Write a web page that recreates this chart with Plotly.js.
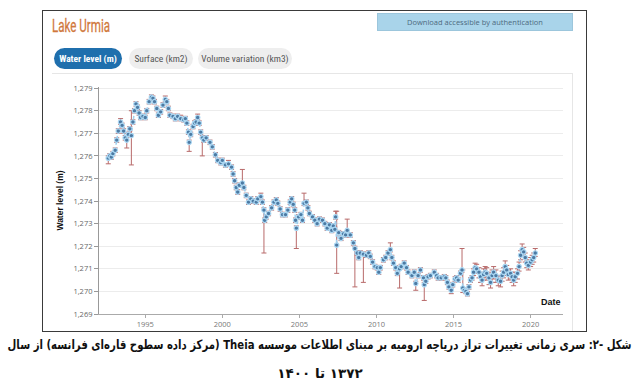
<!DOCTYPE html>
<html>
<head>
<meta charset="utf-8">
<script src="https://cdn.plot.ly/plotly-3.0.1.min.js"></script>
<style>
  html, body { margin:0; padding:0; background:#fff; width:640px; height:384px; overflow:hidden; }
  .abs { position:absolute; }
  #frame { left:42px; top:10px; width:543px; height:320px; border:1.5px solid #3a3a3a; }
  #title { left:52px; top:14px; font-family:"Liberation Sans Narrow","Roboto",sans-serif; font-size:19px; color:#d0783c; transform-origin:left center; white-space:nowrap; -webkit-text-stroke:0.3px #d0783c; }
  .pill { top:48px; height:21px; border-radius:11px; font-family:"Liberation Sans Narrow","Roboto",sans-serif; font-stretch:condensed; font-size:9.5px; line-height:21px; text-align:center; font-weight:bold; }
  #b1 { left:54px; width:68px; background:#1f6fad; color:#fff; }
  #b2 { left:129px; width:64px; background:#eeeeee; color:#555; font-weight:normal; }
  #b3 { left:198px; width:94px; background:#eeeeee; color:#555; font-weight:normal; }
  #dl { left:377px; top:13px; width:194px; height:16px; background:#a9d4ea; border:1px solid #9cc6dc; color:#4d6a7e; font-family:"Open Sans",sans-serif; font-size:7.5px; line-height:16px; text-align:center; }
  #panel { left:52px; top:73px; width:520px; height:257px; border-top:1px solid #e6e6e6; border-right:1px solid #e6e6e6; }
  #chart { left:52px; top:73px; width:520px; height:257px; }
  #cap1 { right:8px; top:337px; direction:rtl; font-family:"DejaVu Sans",sans-serif; font-weight:bold; font-size:13px; color:#111; white-space:nowrap; transform-origin:right center; }
  #cap2 { left:0px; top:365px; width:640px; text-align:center; direction:rtl; font-family:"DejaVu Sans",sans-serif; font-weight:bold; font-size:13.5px; color:#111; }
</style>
</head>
<body>
<div id="frame" class="abs"></div>
<div id="title" class="abs">Lake Urmia</div>
<div id="b1" class="abs pill">Water level (m)</div>
<div id="b2" class="abs pill">Surface (km2)</div>
<div id="b3" class="abs pill">Volume variation (km3)</div>
<div id="dl" class="abs">Download accessible by authentication</div>
<div id="panel" class="abs"></div>
<div id="chart" class="abs"></div>
<div id="cap1" class="abs">شکل -۲: سری زمانی تغییرات تراز دریاچه ارومیه بر مبنای اطلاعات موسسه Theia (مرکز داده سطوح قاره‌ای فرانسه) از سال</div>
<div id="cap2" class="abs">۱۳۷۲ تا ۱۴۰۰</div>
<script>
const dates = [
  1992.6,1992.7,1992.8,1992.9,1993.05,1993.15,1993.25,1993.4,1993.5,1993.6,
  1993.7,1993.8,1993.9,1994.0,1994.1,1994.2,1994.3,1994.4,1994.5,1994.6,
  1994.7,1994.85,1995.0,1995.1,1995.25,1995.4,1995.5,1995.6,1995.75,1995.85,
  1996.0,1996.15,1996.3,1996.4,1996.5,1996.6,1996.8,1996.95,1997.1,1997.3,
  1997.5,1997.6,1997.7,1997.8,1997.85,1997.95,1998.1,1998.2,1998.3,1998.4,
  1998.5,1998.6,1998.7,1998.8,1998.95,1999.2,1999.35,1999.55,1999.7,1999.9,
  2000.0,2000.2,2000.4,2000.6,2000.7,2000.8,2000.9,2001.0,2001.1,2001.3,
  2001.4,2001.55,2001.7,2001.85,2002.0,2002.2,2002.3,2002.5,2002.6,2002.7,
  2002.75,2002.85,2003.0,2003.2,2003.35,2003.5,2003.6,2003.75,2003.9,2004.1,
  2004.25,2004.4,2004.5,2004.6,2004.7,2004.75,2004.8,2004.95,2005.1,2005.2,
  2005.3,2005.45,2005.55,2005.65,2005.85,2006.0,2006.15,2006.3,2006.5,2006.65,
  2006.8,2006.95,2007.1,2007.2,2007.3,2007.35,2007.42,2007.55,2007.7,2007.85,
  2008.0,2008.1,2008.3,2008.5,2008.6,2008.75,2008.85,2008.95,2009.15,2009.35,
  2009.5,2009.6,2009.75,2009.9,2010.05,2010.15,2010.25,2010.45,2010.6,2010.75,
  2010.9,2011.0,2011.1,2011.25,2011.35,2011.5,2011.6,2011.8,2011.95,2012.05,
  2012.3,2012.45,2012.55,2012.7,2012.85,2013.05,2013.1,2013.2,2013.35,2013.5,
  2013.75,2013.9,2014.0,2014.2,2014.4,2014.5,2014.6,2014.7,2014.85,2014.95,
  2015.1,2015.2,2015.3,2015.45,2015.55,2015.6,2015.7,2015.8,2015.9,2016.0,
  2016.1,2016.2,2016.3,2016.4,2016.5,2016.65,2016.75,2016.85,2016.95,2017.05,
  2017.15,2017.3,2017.4,2017.5,2017.6,2017.75,2017.9,2018.05,2018.15,2018.25,
  2018.35,2018.45,2018.55,2018.7,2018.8,2018.9,2019.0,2019.15,2019.25,2019.35,
  2019.45,2019.55,2019.65,2019.75,2019.85,2020.0,2020.1,2020.2,2020.3
];
const levels = [
  1275.9,1276.0,1275.95,1276.1,1276.25,1276.7,1277.1,1277.5,1277.35,1277.1,
  1276.8,1276.7,1276.95,1277.2,1276.9,1277.5,1278.0,1278.3,1278.15,1277.9,
  1277.7,1277.75,1277.7,1278.0,1278.4,1278.6,1278.55,1278.4,1278.1,1277.8,
  1277.95,1278.25,1278.5,1278.4,1278.1,1277.8,1277.75,1277.65,1277.75,1277.65,
  1277.6,1277.65,1277.45,1277.05,1276.6,1276.95,1277.3,1277.45,1277.5,1277.7,
  1277.45,1277.05,1276.8,1276.7,1276.8,1276.6,1276.4,1276.05,1275.8,1275.7,
  1275.8,1275.6,1275.65,1275.5,1275.2,1274.9,1274.6,1274.4,1274.7,1274.8,
  1274.6,1274.25,1273.95,1274.1,1274.0,1273.95,1274.1,1274.2,1273.95,1273.6,
  1273.15,1273.3,1273.45,1273.7,1273.95,1274.05,1273.9,1273.65,1273.4,1273.4,
  1273.6,1273.95,1274.1,1273.85,1273.6,1273.15,1272.8,1273.3,1273.4,1273.15,
  1273.9,1273.95,1273.7,1273.45,1273.3,1273.15,1273.0,1273.2,1273.15,1273.0,
  1272.8,1272.95,1272.7,1272.9,1272.75,1273.3,1272.05,1272.6,1272.35,1272.55,
  1272.5,1272.7,1272.5,1272.15,1271.9,1271.7,1271.5,1271.7,1271.65,1271.6,
  1271.7,1271.55,1271.3,1271.1,1271.05,1270.85,1271.05,1271.4,1271.5,1271.7,
  1271.85,1271.5,1271.25,1271.05,1270.8,1271.0,1271.1,1271.25,1271.05,1270.85,
  1270.7,1270.85,1270.35,1270.7,1270.95,1270.6,1270.3,1270.45,1270.65,1270.7,
  1270.85,1270.7,1270.6,1270.6,1270.65,1270.6,1270.4,1270.2,1270.05,1270.3,
  1270.55,1270.6,1270.5,1270.8,1270.95,1270.15,1270.05,1270.0,1269.9,1270.2,
  1270.5,1270.6,1270.85,1271.05,1271.0,1270.85,1270.65,1270.5,1270.75,1270.85,
  1270.8,1270.6,1270.4,1270.7,1270.85,1270.7,1270.5,1270.45,1270.7,1270.85,
  1271.1,1270.95,1270.75,1270.8,1270.65,1270.5,1270.65,1270.8,1271.1,1271.6,
  1271.85,1271.75,1271.5,1271.25,1271.15,1271.3,1271.4,1271.5,1271.7
];
const errUp = [
  .1,.1,.1,.1,.1,.1,.1,.15,.1,.1,
  .1,.1,.1,.1,1.1,.1,.1,.1,.1,.1,
  .1,.1,.1,.1,.1,.1,.1,.1,.1,.1,
  .1,.1,.15,.1,.1,.1,.1,.1,.1,.15,
  .1,.1,.1,.1,.1,.1,.1,.1,.1,.15,
  .1,.1,.1,.1,.1,.1,.1,.1,.1,.1,
  .1,.1,.15,.1,.1,.1,.1,.1,.1,.6,
  .1,.1,.1,.1,.1,.1,.1,.15,.1,.1,
  .1,.1,.1,.1,.1,.1,.1,.1,.1,.1,
  .1,.1,.1,.1,.1,.1,.1,.1,.1,.1,
  .45,.1,.1,.1,.1,.1,.1,.1,.1,.1,
  .1,.1,.1,.1,.1,.25,1.5,.1,.1,.1,
  .1,.5,.1,.1,.1,.1,.1,.1,.1,.1,
  .1,.1,.1,.1,.1,.1,.1,.1,.1,.1,
  .3,.1,.1,.1,.1,.1,.1,.1,.1,.1,
  .1,.1,.1,.1,.1,.1,.1,.1,.1,.1,
  .1,.1,.1,.1,.1,.1,.1,.1,.1,.1,
  .1,.1,.1,.1,.95,.8,.1,.1,.1,.1,
  .1,.1,.15,.2,.2,.2,.2,.2,.25,.25,
  .25,.25,.2,.25,.25,.25,.2,.2,.2,.2,
  .25,.2,.2,.2,.2,.2,.2,.2,.2,.2,
  .25,.2,.2,.15,.15,.2,.2,.2,.2
];
const errDown = [
  .25,.1,.1,.1,.1,.1,.1,.1,.1,.1,
  .1,.35,.1,.1,1.3,.1,.1,.1,.1,.1,
  .1,.1,.1,.1,.1,.1,.1,.1,.1,.1,
  .1,.1,.1,.1,.1,.1,.1,.1,.1,.1,
  .1,.1,.1,.1,.4,.1,.1,.1,.1,.1,
  .1,.1,.8,.1,.1,.1,.1,.1,.1,.1,
  .1,.1,.1,.1,.1,.1,.1,.1,.1,.1,
  .1,.1,.1,.1,.1,.1,.1,.1,.1,1.9,
  .1,.1,.1,.1,.1,.1,.1,.1,.1,.1,
  .1,.1,.1,.1,.1,.1,.9,.1,.2,.1,
  .1,.1,.1,.1,.1,.1,.1,.1,.1,.1,
  .1,.1,.1,.1,.1,.1,1.25,.1,.1,.1,
  .1,.1,.1,.1,1.7,.1,.1,.1,1.25,.1,
  .1,.1,.1,.1,.1,.1,.1,.1,.1,.1,
  .1,.1,.1,.1,.1,.85,.1,.1,.1,.1,
  .1,.1,.3,.1,.1,.1,.7,.1,.1,.1,
  .1,.1,.1,.1,.1,.1,.1,.1,.15,.1,
  .1,.1,.1,.1,.1,.2,.1,.1,.1,.1,
  .1,.1,.15,.2,.2,.25,.25,.25,.25,.25,
  .3,.3,.25,.3,.3,.3,.25,.25,.25,.25,
  .25,.25,.25,.25,.25,.25,.25,.25,.2,.2,
  .2,.2,.2,.2,.2,.2,.2,.2,.15
];
const yTicks = [1269,1270,1271,1272,1273,1274,1275,1276,1277,1278,1279];
const xTicks = [1995,2000,2005,2010,2015,2020];

const trace = {
  x: dates, y: levels, type: 'scatter', mode: 'lines+markers',
  line: { color: '#9fcfee', width: 1.5, dash: 'dot' },
  marker: { size: 4.5, color: '#4d7aa3', line: { color: '#acd8f3', width: 1.2 } },
  error_y: { type: 'data', symmetric: false, array: errUp, arrayminus: errDown,
             color: '#b86a6a', thickness: 1, width: 2.5 },
  hoverinfo: 'skip'
};

const layout = {
  width: 520, height: 257,
  margin: { l: 47, r: 9, t: 14, b: 16 },
  paper_bgcolor: 'rgba(0,0,0,0)', plot_bgcolor: 'rgba(0,0,0,0)',
  showlegend: false,
  font: { family: '"Open Sans", sans-serif', size: 8, color: '#666' },
  xaxis: {
    range: [1992.0, 2022.1], tickvals: xTicks, ticktext: xTicks.map(String),
    showgrid: false, zeroline: false, showline: true, linecolor: '#aaa', linewidth: 1,
    ticks: 'outside', ticklen: 3, tickcolor: '#aaa', tickfont: { size: 7.5, color: '#777' }
  },
  yaxis: {
    range: [1269, 1279.05], tickvals: yTicks, tickformat: ',d',
    showgrid: true, gridcolor: '#ececec', zeroline: false, showline: true, linecolor: '#999', linewidth: 1,
    ticks: 'outside', ticklen: 4, tickcolor: '#999', tickfont: { size: 7.5, color: '#666' },
    title: { text: 'Water level (m)', font: { family: 'Arial, "Liberation Sans", sans-serif', size: 8.5, color: '#111', weight: 'bold' }, standoff: 8 }
  },
  annotations: [{
    text: '<b>Date</b>', xref: 'paper', yref: 'paper', x: 1, y: 0.02, xanchor: 'right', yanchor: 'bottom',
    showarrow: false, font: { family: 'Arial, "Liberation Sans", sans-serif', size: 9, color: '#111' }
  }]
};

Plotly.newPlot('chart', [trace], layout, { staticPlot: true, displayModeBar: false });

function fitWidth(id, target) {
  const el = document.getElementById(id);
  const w = el.getBoundingClientRect().width;
  if (w > 0) el.style.transform = 'scaleX(' + (target / w) + ')';
}
fitWidth('cap1', 624);
fitWidth('title', 58);
</script>
</body>
</html>
